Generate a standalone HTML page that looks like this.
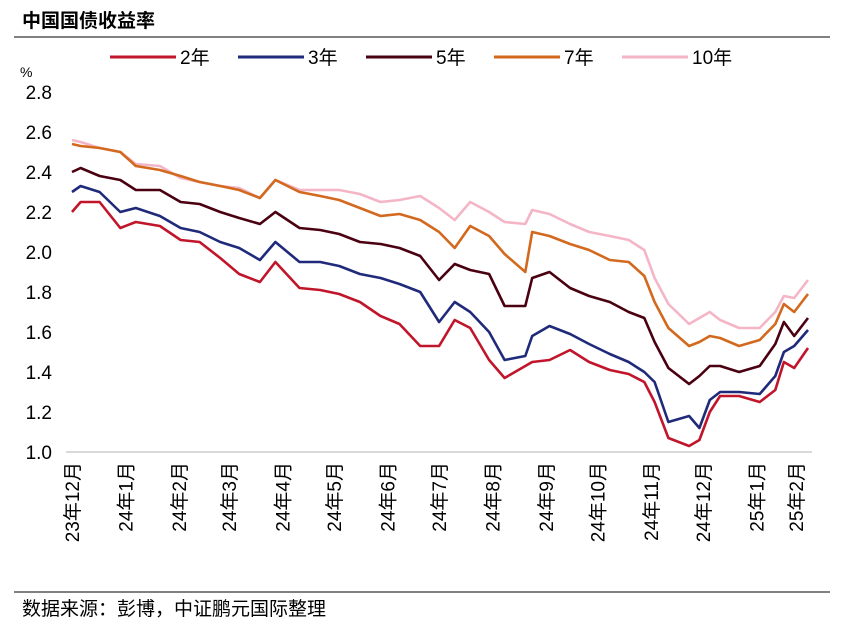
<!DOCTYPE html>
<html><head><meta charset="utf-8"><style>
body{margin:0;background:#fff;}
svg{display:block;font-family:"Liberation Sans","Noto Sans CJK SC",sans-serif;}
</style></head><body>
<svg width="851" height="642" viewBox="0 0 851 642">
<text x="22" y="27" font-size="19" font-weight="bold" fill="#000">中国国债收益率</text>
<line x1="14" y1="37" x2="830" y2="37" stroke="#000" stroke-width="1"/>
<g id="legend"></g>
<text x="20" y="77" font-size="14" fill="#000">%</text>
<g id="yaxis"></g>
<g id="xaxis"></g>
<g id="series"></g>
<line x1="14" y1="592" x2="830" y2="592" stroke="#000" stroke-width="1"/>
<text x="22" y="615" font-size="19" fill="#000">数据来源：彭博，中证鹏元国际整理</text>
</svg>
<script>
const days=[0,5,16,28,37,51,63,74,86,97,109,118,132,144,155,167,179,190,202,213,222,231,242,251,263,267,277,289,300,312,323,332,338,346,358,364,370,376,387,399,408,413,419,427];
const y10=[2.56,2.55,2.52,2.50,2.44,2.43,2.37,2.35,2.33,2.32,2.27,2.36,2.31,2.31,2.31,2.29,2.25,2.26,2.28,2.22,2.16,2.25,2.20,2.15,2.14,2.21,2.19,2.14,2.10,2.08,2.06,2.01,1.87,1.74,1.64,1.67,1.70,1.66,1.62,1.62,1.70,1.78,1.77,1.86];
const y7=[2.54,2.53,2.52,2.50,2.43,2.41,2.38,2.35,2.33,2.31,2.27,2.36,2.30,2.28,2.26,2.22,2.18,2.19,2.16,2.10,2.02,2.13,2.08,1.99,1.90,2.10,2.08,2.04,2.01,1.96,1.95,1.88,1.75,1.62,1.53,1.55,1.58,1.57,1.53,1.56,1.64,1.74,1.70,1.79];
const y5=[2.40,2.42,2.38,2.36,2.31,2.31,2.25,2.24,2.20,2.17,2.14,2.20,2.12,2.11,2.09,2.05,2.04,2.02,1.98,1.86,1.94,1.91,1.89,1.73,1.73,1.87,1.90,1.82,1.78,1.75,1.70,1.67,1.55,1.42,1.34,1.38,1.43,1.43,1.40,1.43,1.54,1.65,1.58,1.67];
const y3=[2.30,2.33,2.30,2.20,2.22,2.18,2.12,2.10,2.05,2.02,1.96,2.05,1.95,1.95,1.93,1.89,1.87,1.84,1.80,1.65,1.75,1.70,1.60,1.46,1.48,1.58,1.63,1.59,1.54,1.49,1.45,1.40,1.35,1.15,1.18,1.12,1.26,1.30,1.30,1.29,1.38,1.50,1.53,1.61];
const y2=[2.20,2.25,2.25,2.12,2.15,2.13,2.06,2.05,1.97,1.89,1.85,1.95,1.82,1.81,1.79,1.75,1.68,1.64,1.53,1.53,1.66,1.62,1.46,1.37,1.43,1.45,1.46,1.51,1.45,1.41,1.39,1.35,1.25,1.07,1.03,1.06,1.20,1.28,1.28,1.25,1.31,1.45,1.42,1.52];
const seriesNames=["2年","3年","5年","7年","10年"];
const yTicks=[1.0,1.2,1.4,1.6,1.8,2.0,2.2,2.4,2.6,2.8];
const monthLabels=["23年12月","24年1月","24年2月","24年3月","24年4月","24年5月","24年6月","24年7月","24年8月","24年9月","24年10月","24年11月","24年12月","25年1月","25年2月"];
const monthDays=[0,31,62,91,122,152,183,213,244,275,305,336,366,397,428];

const NS="http://www.w3.org/2000/svg";
const X0=72,X1=808,DMAX=427;
const xs=d=>X0+d/DMAX*(X1-X0);
const ys=v=>452-(v-1.0)/1.8*360;
function mk(t,a,p){const e=document.createElementNS(NS,t);for(const k in a)e.setAttribute(k,a[k]);p.appendChild(e);return e;}

const yaxis=document.getElementById('yaxis');
yTicks.forEach(t=>{
  const e=mk('text',{x:52,y:ys(t)+7,'font-size':19,'text-anchor':'end',fill:'#000'},yaxis);
  e.textContent=t.toFixed(1);
  
  
});
const xaxis=document.getElementById('xaxis');
const axl=mk('line',{x1:66,y1:452,x2:812,y2:452,stroke:'#d9d9d9','stroke-width':2},xaxis);


monthLabels.forEach((m,i)=>{
  const x=Math.min(xs(monthDays[i]),796)+7;
  const e=mk('text',{x:x,y:462,'font-size':19,'text-anchor':'end',fill:'#000',transform:`rotate(-90 ${x} 462)`},xaxis);
  e.textContent=m;
  
  
});

const colors=["#c0152a","#1f2a7a","#4a0010","#d2691e","#f4b6c6"];
const data=[y2,y3,y5,y7,y10];
const sg=document.getElementById('series');
[4,3,2,1,0].forEach(i=>{
  const pts=data[i].map((v,j)=>xs(days[j]).toFixed(1)+","+ys(v).toFixed(1)).join(" ");
  const p=mk('polyline',{points:pts,fill:'none',stroke:colors[i],'stroke-width':2.6,'stroke-linejoin':'round'},sg);
  
  
});

const lg=document.getElementById('legend');
const lx=[110,238,366,494,622];
seriesNames.forEach((n,i)=>{
  const l=mk('line',{x1:lx[i],y1:57,x2:lx[i]+66,y2:57,stroke:colors[i],'stroke-width':3},lg);
  
  
  const t=mk('text',{x:lx[i]+70,y:64,'font-size':19,fill:'#000'},lg);
  t.textContent=n;
  
  
});
</script>
</body></html>
